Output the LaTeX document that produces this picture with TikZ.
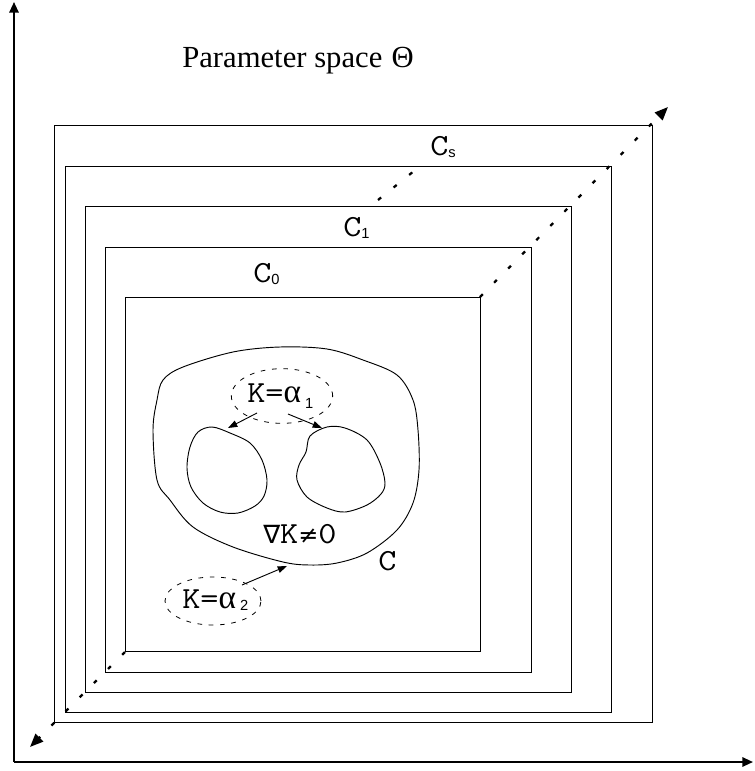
\documentclass[tikz,border=0pt]{standalone}
\usepackage{fontspec}
\usepackage{graphicx}
\setmainfont{Liberation Serif}
\newfontfamily\subf{Liberation Sans}
\newfontfamily\djv{DejaVu Sans}
\usetikzlibrary{arrows.meta,shapes.geometric}
\newcommand\mono[1]{\scalebox{1.15}[1]{\ttfamily\fontsize{23}{23}\selectfont #1}}
\newcommand\subtxt[1]{{\subf\fontsize{11}{11}\selectfont #1}}
\newcommand\alp{{\rmfamily\fontsize{25}{25}\selectfont α}}
\begin{document}
\begin{tikzpicture}[x=0.75pt,y=-0.75pt,
 axis/.style={line width=1.5pt,-{Triangle[length=8pt,width=7pt]}},
 frame/.style={draw,line width=0.6pt},
 diag/.style={line width=1.7pt,dash pattern=on 3pt off 12pt,-{Triangle[length=10pt,width=8pt]}},
 diagplain/.style={line width=1.7pt,dash pattern=on 3pt off 12pt},
 curve/.style={draw,line width=0.7pt},
 oval/.style={ellipse,draw,line width=0.6pt,dash pattern=on 3.5pt off 5pt,inner sep=0pt},
 lab/.style={inner sep=0pt,anchor=base west},
 pointer/.style={line width=0.7pt,-{Triangle[length=7pt,width=5pt]}}
]
\useasboundingbox (0,0) rectangle (754,771);
% axes
\coordinate (O) at (14,762);
\coordinate (Ytop) at (14,2);
\coordinate (Xend) at (753,762);
\draw[axis] (O) -- (Ytop);
\draw[axis] (O) -- (Xend);
% title
\node[lab,font=\fontsize{23}{23}\selectfont] (title) at (182,67) {Parameter space\hspace{7pt}Θ};
% nested boxes
\draw[frame] (54,125) rectangle (652,722);
\draw[frame] (65,166) rectangle (611,712);
\draw[frame] (85,206) rectangle (571,692);
\draw[frame] (105,247) rectangle (531,672);
\draw[frame] (125,297) rectangle (480,651);
% diagonal
\coordinate (dLL) at (125,652);
\coordinate (dLtip) at (30,747);
\coordinate (dUR) at (480,297);
\coordinate (dUtip) at (668,107);
\draw[diag] (dLL) -- (dLtip);
\draw[diag] (dUR) -- (dUtip);
\coordinate (s1) at (378,200);
\coordinate (s2) at (414,171);
\draw[diagplain] (s1) -- (s2);
% labels
\node[lab] (cs) at (430,155) {\mono{C}\raisebox{-1.5pt}{\subtxt{s}}};
\node[lab] (c1) at (343,236) {\mono{C}\raisebox{-1.5pt}{\subtxt{1}}};
\node[lab] (c0) at (253,282) {\mono{C}\raisebox{-1.5pt}{\subtxt{0}}};
% outer blob C
\draw[curve] plot[smooth cycle,tension=0.55] coordinates {
 (163,380) (183,367) (233,352) (280,347) (327,349) (363,360) (397,375)
 (413,400) (418,430) (419,470) (413,503) (397,530) (367,553) (337,563)
 (310,565) (283,562) (233,547) (193,527) (170,500) (157,480) (153,430) (157,400)};
% left hole
\draw[curve] plot[smooth cycle,tension=0.55] coordinates {
 (212,427) (230,433) (250,443) (262,460) (267,480) (264,496) (255,506)
 (238,513) (220,512) (203,503) (191,487) (187,468) (190,447) (198,432)};
% right hole
\draw[curve] plot[smooth cycle,tension=0.55] coordinates {
 (327,427) (345,428) (367,440) (380,463) (385,483) (381,494) (367,505)
 (345,512) (327,508) (307,497) (297,480) (299,465) (306,452) (310,436)};
% ellipses
\node[oval,minimum width=76pt,minimum height=41pt] (e1) at (282,396) {};
\node[oval,minimum width=72pt,minimum height=36pt] (e2) at (213,601) {};
\node[lab] (k1) at (247,402) {\mono{K=}\alp\hspace{3pt}\raisebox{-5pt}{\subtxt{1}}};
\node[lab] (k2) at (182,608) {\mono{K=}\alp\hspace{3pt}\raisebox{-2pt}{\subtxt{2}}};
% arrows
\coordinate (a1s) at (257,413);
\coordinate (a1t) at (228,428);
\coordinate (a2s) at (288,414);
\coordinate (a2t) at (322,428);
\coordinate (a3s) at (242,585);
\coordinate (a3t) at (287,566);
\draw[pointer] (a1s) -- (a1t);
\draw[pointer] (a2s) -- (a2t);
\draw[pointer] (a3s) -- (a3t);
% gradient label and C
\node[lab] (grad) at (263,543) {{\djv\fontsize{19}{19}\selectfont ∇}\mono{K}{\djv\fontsize{18}{18}\selectfont ≠}\mono{0}};
\node[lab] (cC) at (378,570) {\mono{C}};
\end{tikzpicture}
\end{document}
